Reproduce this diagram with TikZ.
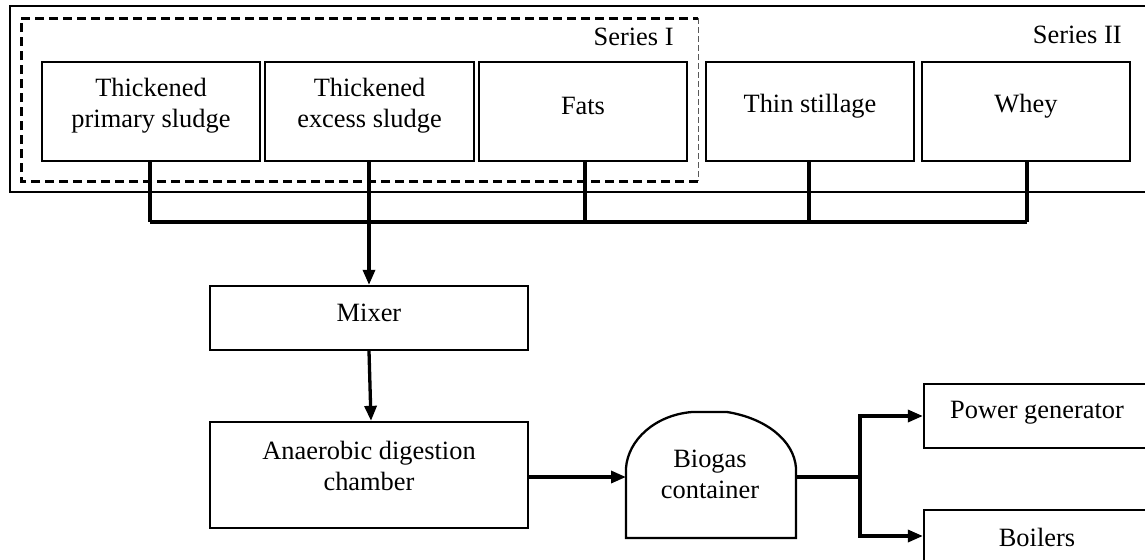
\documentclass[tikz,border=0pt]{standalone}
\usepackage{fontspec}
\setmainfont{Liberation Serif}
\usetikzlibrary{arrows.meta,calc}
\begin{document}
\begin{tikzpicture}[x=0.5pt,y=-0.5pt,
  every node/.style={font=\fontsize{13.2pt}{15.5pt}\selectfont},
  box/.style={draw,line width=1.15pt,rectangle,inner sep=0pt,align=center},
  txt/.style={inner sep=0pt,align=center},
  conn/.style={line width=1.65pt},
  arr/.style={line width=1.65pt,-{Triangle[length=7.5pt,width=6pt]}},
  outer/.style={line width=1pt},
  thickdash/.style={line width=1.5pt,dash pattern=on 4.5pt off 2.5pt},
  thindash/.style={line width=0.5pt,draw=gray!70!black,dash pattern=on 3pt off 1.5pt}]
\useasboundingbox (0,0) rectangle (1145,559);
% outer series II frame
\draw[outer] (1150,6) -- (10,6) -- (10,192) -- (1150,192);
% series I dashed frame
\draw[thickdash] (698,181) -- (21,181) -- (21,18) -- (698,18);
\draw[thindash] (698,18) -- (698,181);
\node[txt,anchor=east] (s1) at (674,37) {Series I};
\node[txt,anchor=east] (s2) at (1122,35) {Series II};
% source boxes
\node[box,minimum width=109pt,minimum height=49.5pt] (b1) at (151,111.5) {};
\node[txt] (b1t) at (151,106) {Thickened\\primary sludge};
\node[box,minimum width=104.5pt,minimum height=49.5pt] (b2) at (369.5,111.5) {};
\node[txt] (b2t) at (369.5,106) {Thickened\\excess sludge};
\node[box,minimum width=104pt,minimum height=49.5pt] (b3) at (583,111.5) {};
\node[txt] (b3t) at (583,106) {Fats};
\node[box,minimum width=104pt,minimum height=49.5pt] (b4) at (810,111.5) {};
\node[txt] (b4t) at (810,106) {Thin stillage};
\node[box,minimum width=104pt,minimum height=49.5pt] (b5) at (1026,111.5) {};
\node[txt] (b5t) at (1026,106) {Whey};
% collecting line
\coordinate (j1) at (150,222);
\coordinate (j2) at (369,222);
\coordinate (j3) at (585,222);
\coordinate (j4) at (809,222);
\coordinate (j5) at (1027,222);
\draw[conn] (b1.south -| j1) -- (j1);
\draw[conn] (b2.south -| j2) -- (j2);
\draw[conn] (b3.south -| j3) -- (j3);
\draw[conn] (b4.south -| j4) -- (j4);
\draw[conn] (b5.south -| j5) -- (j5);
\draw[conn] (j1) -- (j5);
% mixer and digester
\node[box,minimum width=159pt,minimum height=32pt] (mix) at (369,318) {};
\node[txt] (mixt) at (369,313) {Mixer};
\node[box,minimum width=159pt,minimum height=53pt] (adc) at (369,475) {};
\node[txt] (adct) at (369,466) {Anaerobic digestion\\chamber};
\draw[arr] (j2) -- (mix.north);
\draw[arr] (mix.south) -- ($(adc.north)+(2,0)$);
% biogas container
\draw[line width=1.15pt] (626,538) -- (626,468) .. controls (628,440) and (655,415) .. (692,412) -- (727,412) .. controls (765,418) and (794,440) .. (796,468) -- (796,538) -- cycle;
\node[txt] (bgt) at (710,474) {Biogas\\container};
\coordinate (bgin) at (626,477);
\coordinate (bgout) at (796,477);
\draw[arr] (adc.east |- bgin) -- (bgin);
% outputs
\node[box,minimum width=113pt,minimum height=32pt] (pg) at (1037,416) {};
\node[txt] (pgt) at (1037,413) {Power generator};
\node[box,minimum width=113pt,minimum height=28pt] (bo) at (1037,538) {};
\node[txt] (bot) at (1037,537) {Boilers};
\coordinate (split) at (860,477);
\draw[conn] (bgout) -- (split);
\draw[arr] (split) |- (pg.west);
\draw[arr] (split) |- ($(bo.west)+(0,-2)$);
\end{tikzpicture}
\end{document}
